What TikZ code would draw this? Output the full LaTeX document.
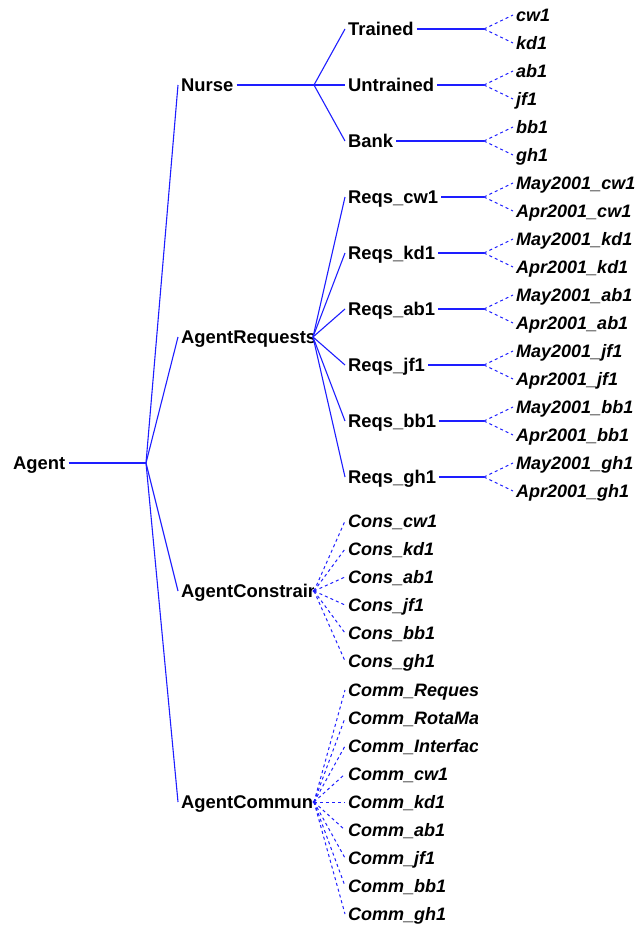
\documentclass[tikz,border=0pt]{standalone}
\usepackage{fontspec}
\setmainfont{Liberation Sans}
\definecolor{treeblue}{RGB}{30,30,255}
\tikzset{
  lbl/.style={anchor=west, inner xsep=3pt, inner ysep=0pt,
    text height=13.2pt, text depth=0pt,
    font=\fontsize{18.4}{20}\selectfont\bfseries},
  leaf/.style={lbl, font=\fontsize{18}{20}\selectfont\bfseries\itshape},
  branch/.style={treeblue, line width=1.1pt},
  twig/.style={treeblue, line width=1pt, dash pattern=on 3pt off 3pt},
  hub/.style={fill=treeblue}
}
\begin{document}
\begin{tikzpicture}[x=1pt,y=-1pt]
\useasboundingbox (0,0) rectangle (636,926);

% root
\node[lbl] (agent) at (10,463) {Agent};
\coordinate (jagent) at (146,463);
\draw[branch] (agent.east) -- (jagent);

% first level; the long names are cut off by the column edge
\node[lbl] (nurse) at (178,85) {Nurse};
\begin{scope}
  \clip (0,0) rectangle (313,926);
  \node[lbl] (requests) at (178,337) {AgentRequests};
  \node[lbl] (constraints) at (178,591) {AgentConstrain};
  \node[lbl] (comms) at (178,802) {AgentCommuni};
\end{scope}
\foreach \n in {nurse,requests,constraints,comms}
  \draw[branch] (jagent) -- (\n.west);

% Nurse subtree
\coordinate (jnurse) at (314,85);
\draw[branch] (nurse.east) -- (jnurse);
\foreach \name/\txt/\y in {trained/Trained/29, untrained/Untrained/85, bank/Bank/141} {
  \node[lbl] (\name) at (345,\y) {\txt};
  \coordinate (j\name) at (484,\y);
  \draw[branch] (jnurse) -- (\name.west);
  \draw[branch] (\name.east) -- (j\name);
}
\foreach \p/\id/\y in {trained/cw1/15, trained/kd1/43, untrained/ab1/71,
                       untrained/jf1/99, bank/bb1/127, bank/gh1/155} {
  \node[leaf] (staff\id) at (513,\y) {\id};
  \draw[twig] (j\p) -- (staff\id.west);
}

% AgentRequests subtree
\coordinate (jreq) at (313,337);
\foreach \id/\y in {cw1/197, kd1/253, ab1/309, jf1/365, bb1/421, gh1/477} {
  \node[lbl] (reqs\id) at (345,\y) {Reqs\_\id};
  \coordinate (jreqs\id) at (484,\y);
  \draw[branch] (jreq) -- (reqs\id.west);
  \draw[branch] (reqs\id.east) -- (jreqs\id);
  \node[leaf] (may\id) at (513,\y-14) {May2001\_\id};
  \node[leaf] (apr\id) at (513,\y+14) {Apr2001\_\id};
  \draw[twig] (jreqs\id) -- (may\id.west);
  \draw[twig] (jreqs\id) -- (apr\id.west);
}

% AgentConstraints subtree
\coordinate (jcons) at (314,591);
\foreach \id [count=\k from 0] in {cw1,kd1,ab1,jf1,bb1,gh1} {
  \node[leaf] (cons\id) at (345,521+28*\k) {Cons\_\id};
  \draw[twig] (jcons) -- (cons\id.west);
}
\fill[hub] (jcons) circle (1.6);

% AgentCommunication subtree
\coordinate (jcomm) at (314,802);
\begin{scope}
  \clip (0,0) rectangle (477,926);
  \foreach \id [count=\k from 0] in {Requests,RotaManager,Interface,cw1,kd1,ab1,jf1,bb1,gh1} {
    \node[leaf] (comm\id) at (345,690+28*\k) {Comm\_\id};
    \draw[twig] (jcomm) -- (comm\id.west);
  }
\end{scope}
\fill[hub] (jcomm) circle (1.6);
\end{tikzpicture}
\end{document}
